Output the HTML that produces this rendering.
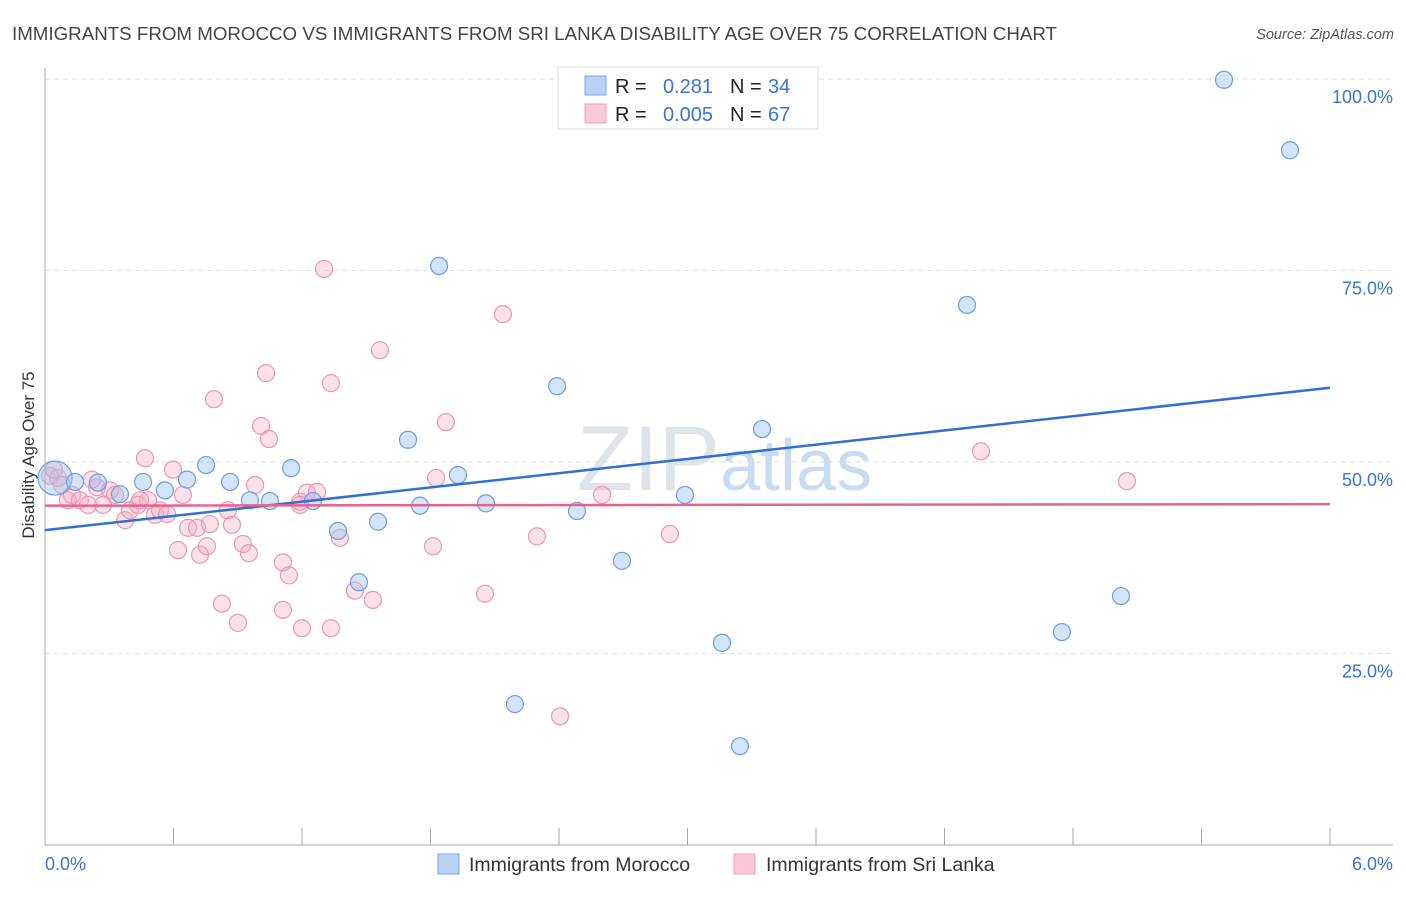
<!DOCTYPE html>
<html><head><meta charset="utf-8"><style>
body{margin:0;background:#fff;font-family:"Liberation Sans",sans-serif;}
svg text{font-family:"Liberation Sans",sans-serif;}
</style></head><body>
<svg id="chart" width="1406" height="892">
<text x="12" y="40" font-size="18" fill="#444" textLength="1045" lengthAdjust="spacingAndGlyphs">IMMIGRANTS FROM MOROCCO VS IMMIGRANTS FROM SRI LANKA DISABILITY AGE OVER 75 CORRELATION CHART</text>
<text x="1394" y="39" font-size="14.5" fill="#555" font-style="italic" text-anchor="end">Source: ZipAtlas.com</text>
<text x="720" y="490" font-size="92" fill="#dfe3ea" text-anchor="end" font-family="Liberation Serif">ZIP</text>
<text x="720" y="490" font-size="72" fill="#c9dbf1">atlas</text>
<g id="grid"></g>
<g id="axes"></g>
<g id="marks"></g>
<text transform="translate(34,455) rotate(-90)" font-size="17" fill="#333" text-anchor="middle">Disability Age Over 75</text>
<text x="45" y="870" font-size="18" fill="#3a74d0">0.0%</text>
<text x="1393" y="870" font-size="18" fill="#3a74d0" text-anchor="end">6.0%</text>
<g>
<rect x="558" y="67" width="260" height="62" fill="#fff" stroke="#ddd"/>
<rect x="585" y="76" width="21" height="19" fill="#b8d1f3" stroke="#7aa6e6"/>
<rect x="585" y="104" width="21" height="19" fill="#fbc8d8" stroke="#f0a0b8"/>
<text x="615" y="93" font-size="20" fill="#222">R = </text><text x="713" y="93" font-size="20" fill="#3a74d0" text-anchor="end">0.281</text>
<text x="730" y="93" font-size="20" fill="#222">N = </text><text x="768" y="93" font-size="20" fill="#3a74d0">34</text>
<text x="615" y="121" font-size="20" fill="#222">R = </text><text x="713" y="121" font-size="20" fill="#3a74d0" text-anchor="end">0.005</text>
<text x="730" y="121" font-size="20" fill="#222">N = </text><text x="768" y="121" font-size="20" fill="#3a74d0">67</text>
</g>
<g>
<rect x="438" y="854" width="21" height="20" fill="#b8d1f3" stroke="#7aa6e6"/>
<text x="469" y="871" font-size="19.5" fill="#333">Immigrants from Morocco</text></g>
<g>
<rect x="734" y="854" width="21" height="20" fill="#fbc8d8" stroke="#f0a0b8"/>
<text x="766" y="871" font-size="19.5" fill="#333">Immigrants from Sri Lanka</text></g>
</svg>
<script>
const blueX=[0.047,0.14,0.247,0.35,0.458,0.56,0.663,0.752,0.864,0.957,1.05,1.149,1.251,1.368,1.466,1.555,1.695,1.751,1.84,1.928,2.059,2.194,2.391,2.484,2.694,2.988,3.161,3.245,3.348,4.305,4.748,5.024,5.505,5.813];
const blueY=[47.9,47.4,47.3,45.8,47.4,46.3,47.7,49.6,47.4,45.0,44.9,49.2,44.9,41.0,34.3,42.2,52.9,44.3,75.6,48.3,44.6,18.4,59.9,43.6,37.1,45.7,26.4,12.9,54.3,70.5,27.8,32.5,99.9,90.7];
const pinkX=[0.023,0.061,0.079,0.107,0.126,0.163,0.201,0.243,0.271,0.303,0.327,0.374,0.397,0.434,0.467,0.481,0.514,0.537,0.57,0.598,0.621,0.644,0.668,0.71,0.724,0.756,0.77,0.789,0.826,0.854,0.873,0.901,0.924,0.952,0.981,1.009,1.032,1.046,1.111,1.111,1.139,1.191,1.2,1.223,1.27,1.303,1.335,1.335,1.377,1.447,1.531,1.564,1.812,1.826,1.872,2.054,2.138,2.297,2.405,2.601,2.918,4.37,5.052,0.042,0.219,0.444,1.191];
const pinkY=[48.2,47.9,47.0,45.0,45.7,45.0,44.4,46.7,44.4,46.3,45.7,42.4,43.7,44.4,50.5,45.0,43.1,43.7,43.2,49.0,38.5,45.7,41.4,41.4,37.9,39.0,41.9,58.2,31.5,43.7,41.8,29.0,39.3,38.1,47.0,54.7,61.6,53.0,36.9,30.7,35.2,44.8,28.3,46.0,46.1,75.2,28.3,60.3,40.1,33.2,32.0,64.6,39.0,47.9,55.2,32.8,69.3,40.3,16.8,45.7,40.6,51.4,47.5,49.0,47.7,45.0,44.4];
const trendBlue=[41.1,59.7];
const trendPink=[44.3,44.5];
const yTicks=[25,50,75,100];
const yTickLabels=["25.0%","50.0%","75.0%","100.0%"];
const xTicks=[0,0.6,1.2,1.8,2.4,3.0,3.6,4.2,4.8,5.4,6.0];

const NS="http://www.w3.org/2000/svg";
const sx=v=>45+v/6*1285;
const sy=v=>845-v*7.66;
function mk(tag,attrs,parent){const e=document.createElementNS(NS,tag);for(const k in attrs)e.setAttribute(k,attrs[k]);parent.appendChild(e);return e;}
const grid=document.getElementById('grid'),axes=document.getElementById('axes'),marks=document.getElementById('marks');
yTicks.forEach((t,i)=>{
 const l=mk('line',{x1:45,x2:1393,y1:sy(t),y2:sy(t),stroke:'#ddd','stroke-dasharray':'5,4'},grid);
 
 
 const tx=mk('text',{x:1393,y:sy(t)+24,'font-size':18,fill:'#3a74d0','text-anchor':'end'},grid);
 tx.textContent=yTickLabels[i];
 
 
});
let a=mk('line',{x1:45,x2:45,y1:68,y2:845,stroke:'#aaa'},axes);


a=mk('line',{x1:45,x2:1393,y1:845,y2:845,stroke:'#aaa'},axes);


xTicks.forEach(t=>{
 const l=mk('line',{x1:sx(t),x2:sx(t),y1:828,y2:845,stroke:'#aaa'},axes);
 
 
});
pinkX.forEach((x,i)=>{
 const c=mk('circle',{cx:sx(x),cy:sy(pinkY[i]),r:8.5,fill:'rgba(246,170,196,0.35)',stroke:'#eb97b2','stroke-width':1.2},marks);
 
 
});
blueX.forEach((x,i)=>{
 const c=mk('circle',{cx:sx(x),cy:sy(blueY[i]),r:i===0?17:8.5,fill:'rgba(160,196,240,0.45)',stroke:'#6c9de2','stroke-width':1.2},marks);
 
 
});
let t=mk('line',{x1:sx(0),x2:sx(6),y1:sy(trendBlue[0]),y2:sy(trendBlue[1]),stroke:'#2f6fd6','stroke-width':2.5},marks);


t=mk('line',{x1:sx(0),x2:sx(6),y1:sy(trendPink[0]),y2:sy(trendPink[1]),stroke:'#e8628c','stroke-width':2.5},marks);


</script>
</body></html>
